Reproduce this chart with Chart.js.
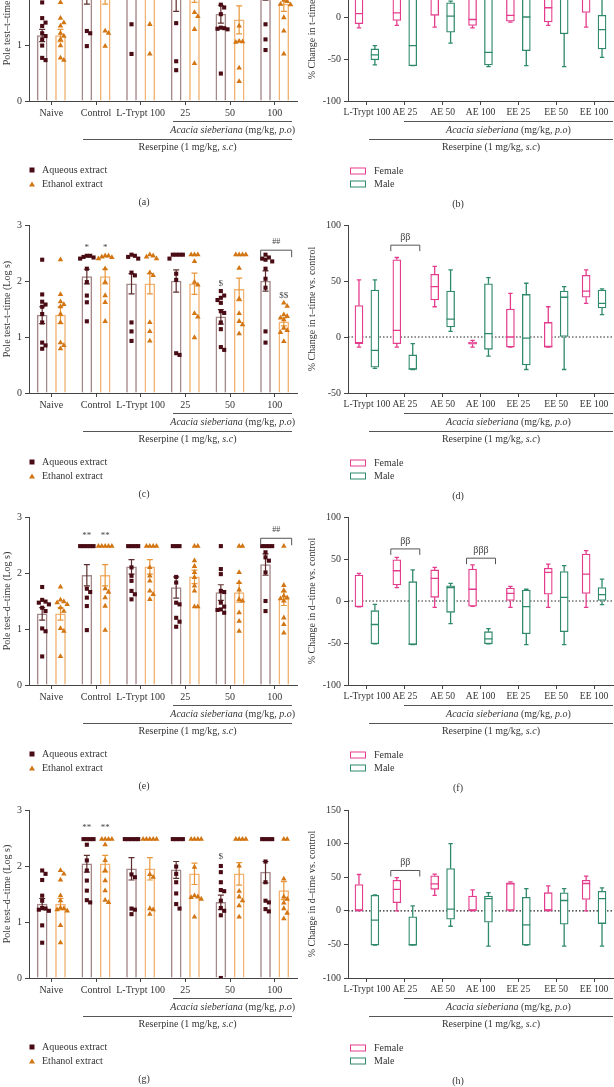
<!DOCTYPE html>
<html>
<head>
<meta charset="utf-8">
<title>Pole test</title>
<script src="https://cdn.jsdelivr.net/npm/chart.js"></script>
<style>
  body { margin: 0; width: 614px; height: 1087px; overflow: hidden; background: #fff; position: relative;
         font-family: 'Liberation Serif', 'DejaVu Serif', serif; color: #333; }
  canvas { position: absolute; }
  .txt { position: absolute; font-size: 10px; line-height: 10px; white-space: nowrap; transform: translate(-50%, -50%); }
  .gline { position: absolute; height: 0; border-top: 1px solid #555; }
  .leg { position: absolute; font-size: 10px; line-height: 10px; white-space: nowrap; transform: translateY(-50%); }
  .sq { position: absolute; width: 5px; height: 5px; background: #4a0c14; transform: translate(-50%, -50%); }
  .tri { position: absolute; width: 0; height: 0; border-left: 3px solid transparent; border-right: 3px solid transparent;
         border-bottom: 5px solid #d27512; transform: translate(-50%, -50%); }
  .rbox { position: absolute; width: 14px; height: 5px; border: 1.3px solid; transform: translateY(-50%); }
</style>
</head>
<body>
<script>
const FONT = "'Liberation Serif', 'DejaVu Serif', serif";
Chart.defaults.font.family = FONT;
Chart.defaults.color = '#333';

// ---- categories / ticks
const leftCats = ['Naive', 'Control', 'L-Trypt 100', '25', '50', '100'];
const rightCats = ['L-Trypt 100', 'AE 25', 'AE 50', 'AE 100', 'EE 25', 'EE 50', 'EE 100'];

// ---- (a) t-time, means / SEM / individual values
const aAqMean = [1.17, 2.00, 2.15, 1.90, 1.55, 2.00];
const aAqSem  = [0.11, 0.27, 0.25, 0.30, 0.16, 0.20];
const aEtMean = [1.17, 2.00, 2.15, 1.95, 1.45, 1.73];
const aEtSem  = [0.11, 0.27, 0.25, 0.19, 0.25, 0.13];
const aAqPts = [
  [1.76, 1.48, 1.40, 1.34, 1.21, 1.16, 1.10, 0.99, 0.77, 0.73],
  [2.45, 2.45, 2.45, 2.40, 2.30, 2.10, 1.25, 1.21, 0.98],
  [2.45, 2.45, 2.45, 2.40, 2.35, 2.20, 1.37, 0.84],
  [2.47, 2.47, 2.47, 2.40, 2.30, 2.20, 1.39, 0.71, 0.55],
  [2.45, 2.40, 1.72, 1.67, 1.55, 1.31, 1.30, 1.29, 1.28, 0.49],
  [2.47, 2.47, 2.45, 2.40, 2.30, 2.20, 1.37, 1.10, 0.91]
];
const aEtPts = [
  [1.76, 1.48, 1.40, 1.34, 1.21, 1.16, 1.10, 0.99, 0.77, 0.73],
  [2.45, 2.45, 2.45, 2.40, 2.30, 2.10, 1.25, 1.21, 0.98],
  [2.45, 2.45, 2.45, 2.40, 2.35, 2.20, 1.37, 0.84],
  [2.47, 2.47, 2.40, 2.20, 2.00, 1.58, 1.51, 1.28, 0.67],
  [2.45, 2.40, 2.30, 1.34, 1.07, 1.06, 1.05, 0.59, 0.35],
  [2.20, 1.95, 1.80, 1.78, 1.73, 1.72, 1.49, 1.25, 0.84]
];

// ---- (c) t-time
const cAqMean = [1.39, 2.08, 1.95, 2.00, 1.36, 2.00];
const cAqSem  = [0.15, 0.13, 0.18, 0.20, 0.13, 0.18];
const cEtMean = [1.39, 2.08, 1.95, 1.95, 1.85, 1.27];
const cEtSem  = [0.15, 0.13, 0.18, 0.19, 0.20, 0.07];
const cAqPts = [
  [2.38, 1.76, 1.63, 1.58, 1.54, 1.41, 1.26, 0.90, 0.85, 0.79],
  [2.45, 2.45, 2.43, 2.42, 2.40, 2.22, 1.98, 1.74, 1.62, 1.28],
  [2.47, 2.45, 2.43, 2.40, 2.15, 2.10, 1.26, 1.10, 0.93],
  [2.47, 2.47, 2.47, 2.47, 2.40, 2.13, 2.02, 0.71, 0.68],
  [1.82, 1.74, 1.70, 1.66, 1.61, 1.46, 1.43, 1.26, 1.14, 0.82, 0.77],
  [2.47, 2.42, 2.40, 2.38, 2.35, 2.22, 2.04, 1.88, 1.10, 0.90]
];
const cEtPts = [
  [2.38, 1.76, 1.63, 1.58, 1.54, 1.41, 1.26, 0.90, 0.85, 0.79],
  [2.45, 2.45, 2.43, 2.42, 2.40, 2.22, 1.98, 1.74, 1.62, 1.28],
  [2.47, 2.45, 2.43, 2.40, 2.15, 2.10, 1.26, 1.10, 0.93],
  [2.47, 2.47, 2.47, 2.35, 1.98, 1.93, 1.42, 1.36, 0.99],
  [2.47, 2.47, 2.47, 2.47, 2.23, 1.68, 1.42, 1.28, 1.22, 1.06],
  [1.61, 1.55, 1.40, 1.37, 1.34, 1.31, 1.16, 1.12, 1.08, 0.92]
];

// ---- (e) d-time
const eAqMean = [1.27, 1.96, 2.11, 1.74, 1.65, 2.15];
const eAqSem  = [0.11, 0.19, 0.13, 0.19, 0.14, 0.19];
const eEtMean = [1.27, 1.96, 2.11, 1.93, 1.65, 1.54];
const eEtSem  = [0.11, 0.19, 0.13, 0.12, 0.17, 0.12];
const eAqPts = [
  [1.75, 1.52, 1.49, 1.47, 1.44, 1.38, 1.32, 1.01, 0.96, 0.51],
  [2.48, 2.48, 2.48, 2.48, 2.48, 1.72, 1.66, 1.56, 1.41, 0.98],
  [2.48, 2.48, 2.48, 2.48, 2.10, 1.95, 1.86, 1.68, 1.62, 1.53],
  [2.48, 2.48, 2.48, 1.93, 1.83, 1.47, 1.44, 1.20, 1.13, 1.04],
  [2.48, 2.07, 1.98, 1.68, 1.66, 1.47, 1.40, 1.35, 1.34, 1.29],
  [2.48, 2.48, 2.48, 2.48, 2.37, 2.28, 2.22, 2.01, 1.50, 1.32]
];
const eEtPts = [
  [1.75, 1.52, 1.49, 1.47, 1.44, 1.38, 1.32, 1.01, 0.96, 0.51],
  [2.48, 2.48, 2.48, 2.48, 2.48, 1.72, 1.66, 1.56, 1.41, 0.98],
  [2.48, 2.48, 2.48, 2.48, 2.10, 1.95, 1.86, 1.68, 1.62, 1.53],
  [2.48, 2.48, 2.22, 2.12, 2.01, 1.92, 1.77, 1.68, 1.40, 1.40],
  [2.48, 2.48, 2.01, 1.83, 1.70, 1.53, 1.50, 1.29, 1.14, 0.96],
  [2.48, 1.78, 1.69, 1.59, 1.56, 1.54, 1.50, 1.20, 1.08, 0.93]
];

// ---- (g) d-time
const gAqMean = [1.32, 2.04, 1.95, 1.93, 1.35, 1.89];
const gAqSem  = [0.10, 0.15, 0.20, 0.15, 0.13, 0.19];
const gEtMean = [1.32, 2.04, 1.95, 1.86, 1.86, 1.56];
const gEtSem  = [0.10, 0.15, 0.20, 0.19, 0.20, 0.16];
const gAqPts = [
  [1.92, 1.86, 1.75, 1.47, 1.38, 1.25, 1.24, 1.22, 1.20, 0.94, 0.63],
  [2.48, 2.48, 2.48, 2.48, 2.38, 2.10, 1.92, 1.74, 1.56, 1.39, 1.35],
  [2.48, 2.48, 2.48, 2.48, 2.48, 1.85, 1.80, 1.24, 1.22, 1.14],
  [2.48, 2.48, 2.48, 2.48, 1.99, 1.86, 1.71, 1.51, 1.32, 1.24],
  [2.00, 1.89, 1.71, 1.57, 1.55, 1.38, 1.25, 1.20, 1.12, 0.00],
  [2.48, 2.48, 2.48, 2.48, 2.08, 1.71, 1.38, 1.35, 1.23, 1.19]
];
const gEtPts = [
  [1.92, 1.86, 1.75, 1.47, 1.38, 1.25, 1.24, 1.22, 1.20, 0.94, 0.63],
  [2.48, 2.48, 2.48, 2.48, 2.38, 2.10, 1.92, 1.74, 1.56, 1.39, 1.35],
  [2.48, 2.48, 2.48, 2.48, 2.48, 1.85, 1.80, 1.24, 1.22, 1.14],
  [2.48, 2.48, 2.48, 2.48, 1.98, 1.47, 1.45, 1.44, 1.41, 1.09],
  [2.48, 2.48, 2.48, 2.48, 2.00, 1.55, 1.45, 1.38, 1.29, 1.09],
  [2.48, 2.48, 1.77, 1.45, 1.41, 1.34, 1.24, 1.16, 1.06]
];

// ---- box plots: [min, q1, median, q3, max] per category
const bFemale = [[-13, -8, 4, 30, 45], [-10, -4, 5, 30, 50], [-12, 2, 25, 40, 55], [-13, -10, -3, 25, 45], [-6, -5, 2, 25, 35], [-10, -6, 11, 30, 45], [-12, 5.5, 25, 40, 55]];
const bMale   = [[-57, -51, -45, -38, -34], [-58, -58, -34, 40, 60], [-31, -18, 1, 17, 19], [-59, -57, -42, 30, 50], [-58, -40, 0, 30, 50], [-59, -20, 22, 40, 55], [-48, -38, -15, 2, 30]];
const dFemale = [[-9, -6, -5, 28, 51], [-9, -6, 6, 69, 71], [27, 33, 45, 56, 63], [-9, -6.5, -5.5, -4.5, -3], [-9, -9, 0, 25, 39], [-9, -9, -8.5, 13, 27], [30, 35.5, 41, 55, 60]];
const dMale   = [[-28, -27, -12, 42, 51], [-29, -29, -28.5, -16, -6], [5, 9, 16, 41, 60], [-17, -11, 3, 47.5, 53], [-29, -25, -1, 38, 48], [-29, 0, 35.5, 41, 45], [20, 26, 30, 42, 43]];
const fFemale = [[-7, -7, -6.5, 31, 33], [16, 19, 36, 49, 52], [-7.5, 4.4, 27, 37, 40], [-6.3, -6.3, 14, 38, 43], [-7.5, 0, 9, 15.5, 17.5], [-7.5, 8, 34, 39, 44], [-7.5, 9, 32, 56, 60]];
const fMale   = [[-51, -51, -28, -11.5, -4], [-52, -52, -51.5, 23, 37], [-27, -13.5, 16, 18, 21], [-51, -51, -45, -36.5, -33], [-52, -39, -6.7, 13, 14], [-52, -36.5, 4.4, 35, 42], [-4.4, 0, 7.5, 16, 26]];
const hFemale = [[0, 0, 0.5, 39, 54], [0, 12, 32, 45.5, 49.5], [23, 32, 40, 52, 54.5], [0, 0, 0.5, 22, 31], [0, 0, 40, 41.6, 43], [0, 0, 1, 27, 37], [0, 17, 40.6, 45.5, 51.5]];
const hMale   = [[-51, -51, -14, 23, 23.5], [-51, -51, -50.5, -9, 7.4], [-23, -12.4, 2.5, 63, 100], [-52.5, -17, 18, 22, 27], [-51, -51, -21, 20, 33], [-52.5, -19.8, 15.3, 26.7, 33], [-52.5, -19, 18, 29, 34]];

// ---- colours
const AQ_BAR = '#a58888', AQ_ERR = '#5e2e2e', AQ_PT = '#4a0c14';
const ET_BAR = '#f2b374', ET_ERR = '#e8973a', ET_PT = '#d27512';
const FEMALE = '#e43c8c', MALE = '#2f8a6a';
const AXIS = '#444';
const SIDE = 0.205;   // half distance between the two bars of a group, in category units

// place equal-ish values side by side (beeswarm), offsets in category units
function swarm(vals, base) {
  const placed = [];
  return vals.map(v => {
    let k = 0, off = 0;
    for (;;) {
      off = k === 0 ? 0 : (k % 2 ? 1 : -1) * Math.ceil(k / 2) * 0.075;
      if (!placed.some(p => Math.abs(p.y - v) < 0.085 && Math.abs(p.x - off) < 0.07)) break;
      k++;
    }
    placed.push({ x: off, y: v });
    return { x: base + off, y: v };
  });
}

const val = d => (d !== null && typeof d === 'object') ? d.y : d;

const extras = {
  id: 'extras',
  beforeDatasetsDraw(chart) {
    const o = chart.options.plugins.extras;
    if (!o || !o.zeroLine) return;
    const ctx = chart.ctx, a = chart.chartArea, y = chart.scales.y.getPixelForValue(0);
    ctx.save();
    ctx.strokeStyle = '#222'; ctx.lineWidth = 1.2; ctx.setLineDash([1.5, 2]);
    ctx.beginPath(); ctx.moveTo(a.left, y); ctx.lineTo(a.right, y); ctx.stroke();
    ctx.restore();
  },
  afterDatasetDraw(chart, args) {
    const ds = chart.data.datasets[args.index];
    const ctx = chart.ctx, ys = chart.scales.y;
    ctx.save();
    if (ds.sem) {
      ctx.strokeStyle = ds.errColor; ctx.lineWidth = 1.2;
      args.meta.data.forEach((el, j) => {
        const m = val(ds.data[j]), s = ds.sem[j];
        const y1 = ys.getPixelForValue(m + s), y0 = ys.getPixelForValue(m - s);
        ctx.beginPath();
        ctx.moveTo(el.x, y1); ctx.lineTo(el.x, y0);
        ctx.moveTo(el.x - 3, y1); ctx.lineTo(el.x + 3, y1);
        ctx.moveTo(el.x - 3, y0); ctx.lineTo(el.x + 3, y0);
        ctx.stroke();
      });
    }
    if (ds.box) {
      ctx.strokeStyle = ds.borderColor; ctx.lineWidth = 1.3;
      args.meta.data.forEach((el, j) => {
        const [mn, q1, md, q3, mx] = ds.box[j];
        const hw = el.width / 2;
        const p = v => ys.getPixelForValue(v);
        ctx.beginPath();
        ctx.moveTo(el.x - hw, p(md)); ctx.lineTo(el.x + hw, p(md));
        ctx.moveTo(el.x, p(q3)); ctx.lineTo(el.x, p(mx));
        ctx.moveTo(el.x - 2.2, p(mx)); ctx.lineTo(el.x + 2.2, p(mx));
        ctx.moveTo(el.x, p(q1)); ctx.lineTo(el.x, p(mn));
        ctx.moveTo(el.x - 2.2, p(mn)); ctx.lineTo(el.x + 2.2, p(mn));
        ctx.stroke();
      });
    }
    ctx.restore();
  },
  afterDraw(chart) {
    const o = chart.options.plugins.extras;
    if (!o) return;
    const ctx = chart.ctx, ys = chart.scales.y;
    ctx.save();
    ctx.fillStyle = '#444'; ctx.strokeStyle = '#555'; ctx.lineWidth = 1;
    ctx.textAlign = 'center'; ctx.textBaseline = 'middle';
    (o.marks || []).forEach(m => {
      const el = chart.getDatasetMeta(m.side < 0 ? 0 : 1).data[m.cat];
      ctx.font = m.size + 'px ' + FONT;
      ctx.fillText(m.text, el.x, ys.getPixelForValue(m.y));
    });
    (o.brackets || []).forEach(b => {
      const xc = chart.scales.x.getPixelForValue(b.cat);
      const x0 = xc - b.w0, x1 = xc + b.w1, y = ys.getPixelForValue(b.y);
      ctx.beginPath();
      ctx.moveTo(x0, y + b.drop); ctx.lineTo(x0, y); ctx.lineTo(x1, y); ctx.lineTo(x1, y + b.drop);
      ctx.stroke();
      ctx.font = b.size + 'px ' + FONT;
      ctx.fillText(b.text, (x0 + x1) / 2, y - 8);
    });
    ctx.restore();
  }
};

function addEl(cls, left, top, html, style) {
  const d = document.createElement('div');
  d.className = cls;
  d.style.left = left + 'px'; d.style.top = top + 'px';
  if (html) d.innerHTML = html;
  if (style) Object.assign(d.style, style);
  document.body.appendChild(d);
  return d;
}

function axisOpts(cats, yTitle, yMin, yMax, step, yWidth, tickSize) {
  const tickFont = { size: tickSize, family: FONT };
  return {
    x: {
      type: 'linear', min: -0.5, max: cats.length - 0.5, offset: false,
      afterBuildTicks(s) { s.ticks = cats.map((_, i) => ({ value: i })); },
      grid: { offset: false, drawOnChartArea: false, tickLength: 4, color: AXIS },
      border: { color: AXIS, width: 1 },
      ticks: { font: tickFont, color: '#333', padding: 2, maxRotation: 0, autoSkip: false,
               callback: v => cats[v] },
      afterFit(s) { s.height = 114; }
    },
    y: {
      min: yMin, max: yMax,
      ticks: { stepSize: step, font: { size: 10, family: FONT }, color: '#333', padding: 3 },
      grid: { drawOnChartArea: false, tickLength: 4, color: AXIS },
      border: { color: AXIS, width: 1 },
      title: { display: true, text: yTitle, font: { size: 10, family: FONT }, color: '#333', padding: { top: 1, bottom: 0 } },
      afterFit(s) { s.width = yWidth; }
    }
  };
}

function groupLabels(chart, px, py, isLeft) {
  const xs = chart.scales.x, a = chart.chartArea, b = py + a.bottom;
  const acX0 = px + (isLeft ? xs.getPixelForValue(3) - 12 : xs.getPixelForValue(1) - 1);
  const reX0 = px + (isLeft ? xs.getPixelForValue(1) - 13 : xs.getPixelForValue(0) + 2);
  const x1 = px + (isLeft ? a.right - 5 : a.right);
  addEl('gline', acX0, b + 20, '', { width: (x1 - acX0) + 'px' });
  addEl('txt', (acX0 + x1) / 2, b + 29, '<i>Acacia sieberiana</i> (mg/kg, <i>p.o</i>)');
  addEl('gline', reX0, b + 37.5, '', { width: (x1 - reX0) + 'px' });
  addEl('txt', (reX0 + x1) / 2, b + 46, 'Reserpine (1 mg/kg, <i>s.c</i>)');
}

function makeCanvas(left, top, w, h) {
  const cv = document.createElement('canvas');
  cv.width = w; cv.height = h;
  cv.style.left = left + 'px'; cv.style.top = top + 'px';
  document.body.appendChild(cv);
  return cv;
}

const baseOpts = (padRight, extra, scales) => ({
  responsive: false, animation: false, devicePixelRatio: 1,
  layout: { padding: { top: 10, right: padRight, left: 0, bottom: 0 } },
  plugins: { legend: { display: false }, tooltip: { enabled: false }, extras: extra },
  scales
});

function leftPanel(p) {
  const cv = makeCanvas(0, p.top, 305, 292);
  const barSet = (label, mean, sem, side, border, err) => ({
    type: 'bar', label, data: mean.map((m, i) => ({ x: i + side, y: m })), sem, errColor: err,
    backgroundColor: '#fff', borderColor: border, borderWidth: 1.5, borderSkipped: 'bottom',
    grouped: false, barThickness: 10, order: 2
  });
  const chart = new Chart(cv, {
    type: 'bar',
    data: {
      datasets: [
        barSet('Aqueous extract', p.aqMean, p.aqSem, -SIDE, AQ_BAR, AQ_ERR),
        barSet('Ethanol extract', p.etMean, p.etSem, SIDE, ET_BAR, ET_ERR),
        { type: 'scatter', data: p.aqPts.flatMap((v, i) => swarm(v, i - SIDE)),
          pointStyle: 'rect', pointRadius: 2.9, backgroundColor: AQ_PT, borderWidth: 0, showLine: false, order: 1 },
        { type: 'scatter', data: p.etPts.flatMap((v, i) => swarm(v, i + SIDE)),
          pointStyle: 'triangle', pointRadius: 3.2, backgroundColor: ET_PT, borderWidth: 0, showLine: false, order: 1 }
      ]
    },
    options: baseOpts(8, { marks: p.marks, brackets: p.brackets }, axisOpts(leftCats, p.yTitle, 0, 3, 1, 29, 10)),
    plugins: [extras]
  });
  groupLabels(chart, 0, p.top, true);
  const b = p.top + chart.chartArea.bottom;
  addEl('sq', 32, b + 68.5);
  addEl('leg', 42, b + 68.5, 'Aqueous extract');
  addEl('tri', 32, b + 82.5);
  addEl('leg', 42, b + 82.5, 'Ethanol extract');
  addEl('txt', 144, b + 101, p.caption);
}

function rightPanel(p) {
  const cv = makeCanvas(305, p.top, 309, 292);
  const boxSet = (label, box, side, col) => ({
    type: 'bar', label, data: box.map((r, i) => ({ x: i + side, y: [r[1], r[3]] })), box,
    backgroundColor: '#fff', borderColor: col, borderWidth: 1.3, borderSkipped: false,
    grouped: false, barThickness: 8
  });
  const chart = new Chart(cv, {
    type: 'bar',
    data: { datasets: [boxSet('Female', p.female, -0.21, FEMALE), boxSet('Male', p.male, 0.21, MALE)] },
    options: baseOpts(1, { zeroLine: p.zeroLine, brackets: p.brackets }, axisOpts(rightCats, p.yTitle, p.yMin, p.yMax, 50, 43, 9.6)),
    plugins: [extras]
  });
  groupLabels(chart, 305, p.top, false);
  const b = p.top + chart.chartArea.bottom;
  addEl('rbox', 350, b + 69.5, '', { borderColor: FEMALE });
  addEl('leg', 374, b + 69.5, 'Female');
  addEl('rbox', 350, b + 83, '', { borderColor: MALE });
  addEl('leg', 374, b + 83, 'Male');
  addEl('txt', 458, b + 103, p.caption);
}

const T_LEFT = 'Pole test\u2013t\u2013time (Log s)', D_LEFT = 'Pole test\u2013d\u2013time (Log s)';
const T_RIGHT = '% Change in t\u2013time vs. control', D_RIGHT = '% Change in d\u2013time vs. control';
const hashBracket = y => [{ cat: 5, y, w0: 14, w1: 17, drop: 7, text: '##', size: 8 }];
const betaBracket = (cat, y, text) => ({ cat, y, w0: 14, w1: 15, drop: 6, text, size: 10 });

leftPanel({ top: -77, caption: '(a)', yTitle: T_LEFT, aqMean: aAqMean, aqSem: aAqSem, etMean: aEtMean, etSem: aEtSem,
  aqPts: aAqPts, etPts: aEtPts, marks: [], brackets: [] });
leftPanel({ top: 215, caption: '(c)', yTitle: T_LEFT, aqMean: cAqMean, aqSem: cAqSem, etMean: cEtMean, etSem: cEtSem,
  aqPts: cAqPts, etPts: cEtPts,
  marks: [{ cat: 1, side: -1, y: 2.6, text: '*', size: 9 }, { cat: 1, side: 1, y: 2.6, text: '*', size: 9 },
          { cat: 4, side: -1, y: 1.95, text: '$', size: 9 }, { cat: 5, side: 1, y: 1.74, text: '$$', size: 9 }],
  brackets: hashBracket(2.55) });
leftPanel({ top: 507, caption: '(e)', yTitle: D_LEFT, aqMean: eAqMean, aqSem: eAqSem, etMean: eEtMean, etSem: eEtSem,
  aqPts: eAqPts, etPts: eEtPts,
  marks: [{ cat: 1, side: -1, y: 2.67, text: '**', size: 9 }, { cat: 1, side: 1, y: 2.67, text: '**', size: 9 }],
  brackets: hashBracket(2.62) });
leftPanel({ top: 800, caption: '(g)', yTitle: D_LEFT, aqMean: gAqMean, aqSem: gAqSem, etMean: gEtMean, etSem: gEtSem,
  aqPts: gAqPts, etPts: gEtPts,
  marks: [{ cat: 1, side: -1, y: 2.68, text: '**', size: 9 }, { cat: 1, side: 1, y: 2.68, text: '**', size: 9 },
          { cat: 4, side: -1, y: 2.16, text: '$', size: 9 }],
  brackets: [] });

rightPanel({ top: -77, caption: '(b)', yTitle: T_RIGHT, yMin: -100, yMax: 100, female: bFemale, male: bMale, zeroLine: false, brackets: [] });
rightPanel({ top: 215, caption: '(d)', yTitle: T_RIGHT, yMin: -50, yMax: 100, female: dFemale, male: dMale, zeroLine: true,
  brackets: [betaBracket(1, 82, '\u03b2\u03b2')] });
rightPanel({ top: 507, caption: '(f)', yTitle: D_RIGHT, yMin: -100, yMax: 100, female: fFemale, male: fMale, zeroLine: true,
  brackets: [betaBracket(1, 62, '\u03b2\u03b2'), betaBracket(3, 51, '\u03b2\u03b2\u03b2')] });
rightPanel({ top: 800, caption: '(h)', yTitle: D_RIGHT, yMin: -100, yMax: 150, female: hFemale, male: hMale, zeroLine: true,
  brackets: [betaBracket(1, 60, '\u03b2\u03b2')] });
</script>
</body>
</html>
